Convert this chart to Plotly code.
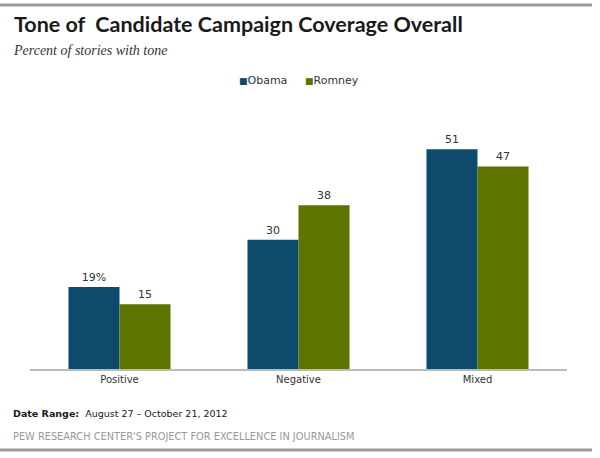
import plotly.graph_objects as go

# Tone of coverage, percent of stories
categories = ["Positive", "Negative", "Mixed"]
obama = [19, 30, 51]
romney = [15, 38, 47]
obama_labels = ["19%", "30", "51"]
romney_labels = ["15", "38", "47"]

BLUE = "#0e4a6c"
GREEN = "#5e7400"
TXT = "#333333"

fig = go.Figure()
fig.add_trace(go.Bar(
    x=categories, y=obama, name="Obama",
    marker=dict(color=BLUE, line=dict(width=0)),
    text=obama_labels, textposition="outside", cliponaxis=False,
    textfont=dict(size=11, color=TXT, family="DejaVu Sans"),
))
fig.add_trace(go.Bar(
    x=categories, y=romney, name="Romney",
    marker=dict(color=GREEN, line=dict(width=0)),
    text=romney_labels, textposition="outside", cliponaxis=False,
    textfont=dict(size=11, color=TXT, family="DejaVu Sans"),
))

fig.update_layout(
    width=600, height=458,
    margin=dict(l=30, r=33, t=119, b=89),
    paper_bgcolor="white", plot_bgcolor="white",
    barmode="group", bargap=0.43, bargroupgap=0,
    showlegend=False,
    xaxis=dict(
        showline=True, linecolor="#bbbbbb", linewidth=1.5,
        ticks="", showgrid=False,
        tickfont=dict(size=10, color=TXT, family="DejaVu Sans"),
    ),
    yaxis=dict(
        range=[0, 58], visible=False, showgrid=False, zeroline=False,
    ),
    font=dict(family="DejaVu Sans"),
)

# plot area: x from 30 to 567 px, y from 119 to 369 px
def px(x):
    return (x - 30) / 537

def py(y):
    return (369 - y) / 250

# legend drawn as small squares next to names, like the original
for name, col, xpos in [("Obama", BLUE, 237), ("Romney", GREEN, 303)]:
    fig.add_annotation(
        text=f"<span style='color:{col};font-size:9px'>■</span>{name}",
        xref="paper", yref="paper", x=px(xpos), y=py(80), xanchor="left", yanchor="middle",
        showarrow=False, font=dict(size=11, color=TXT, family="DejaVu Sans"),
    )

# frame rules top and bottom
fig.add_shape(type="line", xref="paper", yref="paper",
              x0=px(0), x1=px(592), y0=py(5), y1=py(5),
              line=dict(color="#999999", width=3))
fig.add_shape(type="line", xref="paper", yref="paper",
              x0=px(0), x1=px(592), y0=py(450), y1=py(450),
              line=dict(color="#999999", width=3))

fig.add_annotation(
    text="<b>Tone of  Candidate Campaign Coverage Overall</b>",
    xref="paper", yref="paper", x=px(12), y=py(24), xanchor="left", yanchor="middle",
    showarrow=False, font=dict(size=21.5, color="#1a1a1a", family="Lato"),
)
fig.add_annotation(
    text="<i>Percent of stories with tone</i>",
    xref="paper", yref="paper", x=px(11), y=py(50), xanchor="left", yanchor="middle",
    showarrow=False, font=dict(size=14, color="#333333", family="Liberation Serif"),
)
fig.add_annotation(
    text="<b>Date Range:</b>  August 27 – October 21, 2012",
    xref="paper", yref="paper", x=px(11), y=py(413), xanchor="left", yanchor="middle",
    showarrow=False, font=dict(size=9.5, color="#1a1a1a", family="DejaVu Sans"),
)
fig.add_annotation(
    text="PEW RESEARCH CENTER'S PROJECT FOR EXCELLENCE IN JOURNALISM",
    xref="paper", yref="paper", x=px(11), y=py(436), xanchor="left", yanchor="middle",
    showarrow=False, font=dict(size=9.8, color="#999999", family="DejaVu Sans"),
)

fig.write_html("out.html", config={"displayModeBar": False},
               post_script="document.body.style.margin='0';")
